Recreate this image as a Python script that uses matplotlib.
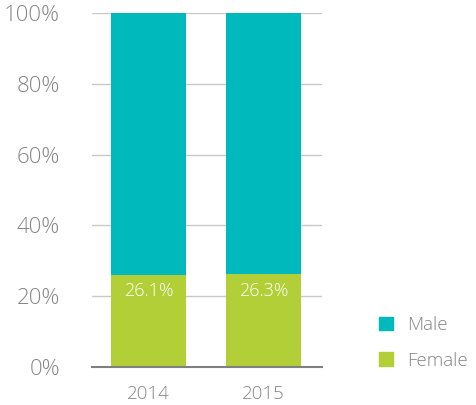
import matplotlib
matplotlib.use("Agg")
import matplotlib.pyplot as plt
from matplotlib.patches import Patch

years = ["2014", "2015"]
female = [26.1, 26.3]
male = [100 - f for f in female]
yticks = [0, 20, 40, 60, 80, 100]

teal = "#00B9BC"
green = "#B3CF38"
grey_text = "#858585"

plt.rcParams["font.family"] = ["Open Sans", "DejaVu Sans"]
plt.rcParams["font.weight"] = "light"

fig = plt.figure(figsize=(4.77, 4.05), dpi=100)
ax = fig.add_axes([0.193, 0.094, 0.482, 0.874])

x = list(range(len(years)))
ax.bar(x, female, width=0.655, color=green, zorder=3)
ax.bar(x, male, width=0.655, bottom=female, color=teal, zorder=3)

for xi, f in zip(x, female):
    ax.text(xi, f - 2.2, f"{f:.1f}%", ha="center", va="top",
            color="white", fontsize=13)

ax.set_xlim(-0.49, 1.51)
ax.set_ylim(0, 100)
ax.set_yticks(yticks)
ax.set_yticklabels([f"{v}%" for v in yticks])
ax.set_xticks(x)
ax.set_xticklabels(years)
ax.tick_params(axis="both", length=0, colors=grey_text, labelsize=16)
ax.tick_params(axis="y", pad=23)
ax.tick_params(axis="x", pad=13, labelsize=13.5)

for spine in ax.spines.values():
    spine.set_visible(False)
ax.grid(axis="y", color="#C8C8C8", linewidth=1, zorder=0)
ax.axhline(0, color="#808080", linewidth=1.5, zorder=4, clip_on=False)

handles = [Patch(color=teal, label="Male"), Patch(color=green, label="Female")]
fig.legend(handles=handles, loc="upper left", bbox_to_anchor=(0.76, 0.262),
           frameon=False, fontsize=13.5, labelcolor=grey_text,
           handlelength=0.7, handleheight=0.7, labelspacing=0.95,
           handletextpad=0.8)

fig.savefig("out.png", dpi=100)
